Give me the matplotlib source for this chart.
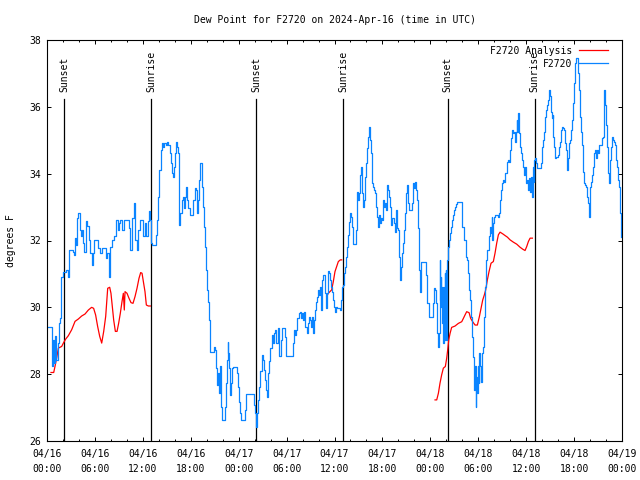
"""
Dew point plot for F2720, gnuplot look-alike
"""

import numpy as np
import pandas as pd
import matplotlib
matplotlib.use('Agg')
import matplotlib.pyplot as plt
import matplotlib.dates as mdates

START = pd.Timestamp('2024-04-16 00:00')

# observed dew point (hours after start, degrees F)
obs_hours = [
    0.08, 0.5, 0.58, 0.75, 0.88, 1.0, 1.17, 1.34, 1.5, 1.67, 1.75, 1.96, 2.34, 2.59, 2.75,
    3.3, 3.42, 3.55, 3.67, 3.8, 3.92, 4.09, 4.26, 4.42, 4.55, 4.67, 4.88, 5.05, 5.22, 5.43,
    5.59, 5.8, 5.93, 6.26, 6.43, 6.68, 6.93, 7.18, 7.35, 7.55, 7.72, 7.89, 8.1, 8.35, 8.51,
    8.68, 8.85, 9.0, 9.18, 9.35, 9.6, 10.1, 10.23, 10.43, 10.68, 10.89, 11.06, 11.23, 11.4,
    11.6, 11.85, 12.06, 12.27, 12.44, 12.6, 12.77, 12.94,
    13.02, 13.19, 13.44, 13.61, 13.77, 13.94, 14.06, 14.23, 14.36, 14.52, 14.69, 14.86,
    15.02, 15.19, 15.36, 15.48, 15.61, 15.78, 15.9, 16.03, 16.15, 16.28, 16.4, 16.49, 16.57,
    16.7, 16.86, 16.99, 17.11, 17.24, 17.4, 17.57, 17.7, 17.86, 18.11, 18.32, 18.53, 18.7,
    18.82, 18.95, 19.07, 19.2, 19.37, 19.58, 19.7, 19.78, 19.91, 20.03, 20.16, 20.28, 20.37,
    20.45, 20.74, 20.91, 21.08, 21.2, 21.33, 21.45, 21.58, 21.7, 21.83, 21.95, 22.12, 22.25,
    22.37, 22.5, 22.62, 22.7, 22.79, 22.91, 23.04, 23.16, 23.33, 23.62, 23.75, 23.91, 24.04,
    24.16, 24.33, 24.67, 24.79, 24.96, 25.42,
    25.71, 25.88, 26.04, 26.17, 26.29, 26.46, 26.58, 26.71, 26.88, 27.0, 27.13, 27.25, 27.38,
    27.5, 27.63, 27.8, 27.96, 28.13, 28.25, 28.38, 28.55, 28.71, 28.96, 29.09, 29.26, 29.42,
    29.63, 29.8, 29.97, 30.63, 30.8, 30.93, 31.05, 31.18, 31.34, 31.51, 31.68, 31.84, 31.97,
    32.09, 32.22, 32.34, 32.51, 32.64, 32.76, 32.89, 33.01, 33.14, 33.26, 33.39, 33.51, 33.64,
    33.76, 33.89, 34.01, 34.14, 34.26, 34.39, 34.51, 34.64, 34.76, 34.89, 35.02, 35.14, 35.22,
    35.35, 35.47, 35.6, 35.72, 35.85, 35.98, 36.1, 36.23, 36.35, 36.48, 36.64, 36.81, 36.94,
    37.06, 37.19, 37.31, 37.44, 37.56, 37.69, 37.81, 37.94,
    38.07, 38.19, 38.28, 38.36, 38.57, 38.69, 38.78, 38.86, 38.99, 39.11, 39.24, 39.36, 39.44,
    39.57, 39.7, 39.82, 39.95, 40.07, 40.2, 40.32, 40.4, 40.53, 40.65, 40.78, 40.9, 41.03,
    41.16, 41.28, 41.41, 41.53, 41.66, 41.78, 41.95, 42.07, 42.2, 42.33, 42.45, 42.58, 42.7,
    42.83, 42.95, 43.08, 43.2, 43.33, 43.45, 43.58, 43.7, 43.83, 43.95, 44.08, 44.2, 44.29,
    44.41, 44.54, 44.71, 44.87, 45.0, 45.12, 45.25, 45.37, 45.58, 45.71, 45.83, 45.96, 46.12,
    46.25, 46.37, 46.5, 46.62, 46.75, 46.83, 47.12, 47.37, 47.5, 47.62, 47.79, 48.17, 48.29,
    48.42, 48.59, 48.71, 48.84, 48.92, 49.04, 49.17,
    49.21, 49.25, 49.34, 49.38, 49.46, 49.5, 49.59, 49.63, 49.71, 49.75, 49.84, 49.88, 49.96,
    50.0, 50.09, 50.21, 50.34, 50.46, 50.59, 50.71, 50.84, 50.96, 51.09, 51.21, 51.38, 51.8,
    51.92, 52.13, 52.26, 52.42, 52.55, 52.72, 52.84, 52.97, 53.13, 53.26, 53.34, 53.43, 53.51,
    53.59, 53.68, 53.76, 53.84, 53.93, 54.05, 54.13, 54.26, 54.38, 54.51, 54.64, 54.72, 54.84,
    54.97, 55.14, 55.3, 55.43, 55.55, 55.68, 55.76, 55.85, 55.97, 56.14, 56.31, 56.47, 56.6,
    56.72, 56.85, 56.97, 57.14, 57.26, 57.39, 57.56, 57.68, 57.81, 57.93, 58.06, 58.18, 58.31,
    58.43, 58.56, 58.64, 58.73, 58.81, 58.89, 58.98, 59.06, 59.14, 59.27, 59.39, 59.52, 59.64,
    59.77, 59.85, 59.94, 60.06, 60.19, 60.31, 60.44, 60.56, 60.64, 60.73, 60.81, 60.94,
    60.98, 61.11, 61.23, 61.4, 61.73, 61.86, 61.98, 62.11, 62.23, 62.36, 62.48, 62.61, 62.73,
    62.86, 62.98, 63.11, 63.19, 63.32, 63.4, 63.49, 63.57, 63.69, 63.99, 64.07, 64.2, 64.32,
    64.45, 64.57, 64.74, 64.86, 64.99, 65.11, 65.24, 65.36, 65.49, 65.61, 65.74, 65.86, 65.99,
    66.12, 66.24, 66.36, 66.49, 66.61, 66.74, 66.87, 66.99, 67.12, 67.24, 67.37, 67.49, 67.62,
    67.74, 67.87, 68.0, 68.12, 68.24, 68.37, 68.49, 68.62, 68.74, 68.87, 68.99, 69.12, 69.24,
    69.37, 69.49, 69.62, 69.75, 69.87, 70.0, 70.12, 70.25, 70.33, 70.46, 70.58, 70.71, 70.83,
    70.96, 71.08, 71.21, 71.33, 71.46, 71.58, 71.71, 71.83,
]
obs_dewpt = [
    29.42, 29.42, 28.23, 29.03, 28.33, 29.13, 28.43, 28.93, 29.52, 29.67, 30.92, 31.07, 31.12, 30.92, 31.72,
    31.67, 31.57, 32.07, 31.87, 32.67, 32.82, 32.32, 32.12, 32.32, 31.92, 31.67, 32.57, 32.42, 32.02, 31.62,
    31.27, 31.62, 32.02, 32.02, 31.77, 31.62, 31.77, 31.77, 31.47, 31.62, 30.92, 31.82, 32.02, 32.12, 32.12,
    32.62, 32.32, 32.52, 32.62, 32.32, 32.62, 32.62, 32.37, 31.72, 32.67, 33.12, 32.02, 31.72, 32.32,
    32.62, 32.62, 32.12, 32.52, 32.12, 32.57, 32.87, 32.62,
    31.92, 31.87, 31.87, 32.17, 32.61, 33.31, 34.11, 34.71, 34.93, 34.81, 34.91, 34.86,
    34.96, 34.86, 34.61, 34.31, 34.01, 33.91, 34.21, 34.61, 34.96, 34.81, 34.61, 34.11, 32.46,
    32.81, 33.21, 33.31, 32.96, 33.31, 33.61, 33.21, 32.96, 32.76, 32.76, 33.21, 33.56, 33.51,
    32.81, 33.21, 33.81, 34.31, 33.61, 33.01, 32.41, 31.81, 31.12, 30.52, 30.17, 29.62, 29.02,
    28.67, 28.67, 28.82, 28.72, 28.18, 27.68, 28.03, 27.43, 28.23, 27.03, 26.63, 26.63, 27.03,
    27.73, 28.42, 28.97, 28.62, 28.18, 27.38, 27.73, 28.18, 28.21, 28.21, 28.03, 27.63, 27.18,
    26.83, 26.63, 26.63, 26.93, 27.41, 27.41,
    27.41, 27.08, 26.83, 26.43, 26.83, 27.23, 27.63, 28.08, 28.57, 28.42, 28.13, 27.83, 27.53,
    27.33, 28.03, 28.38, 28.77, 29.17, 28.92, 29.22, 29.32, 28.92, 29.37, 28.53, 29.02, 29.37,
    29.37, 29.12, 28.55, 28.55, 28.92, 29.32, 29.17, 29.32, 29.67, 29.82, 29.87, 29.67, 29.82,
    29.62, 29.87, 29.42, 29.22, 29.52, 29.72, 29.62, 29.42, 29.72, 29.22, 29.62, 29.92, 30.17,
    30.32, 30.52, 30.37, 30.62, 29.92, 30.82, 30.97, 30.97, 30.42, 29.97, 30.42, 30.72, 31.1,
    31.02, 30.82, 30.62, 30.47, 30.22, 30.02, 29.87, 30.02, 29.97, 29.97, 29.92, 30.22, 30.62,
    30.67, 31.02, 31.22, 31.52, 31.82, 32.17, 32.56, 32.81,
    32.71, 32.41, 32.11, 31.91, 31.91, 32.31, 32.91, 33.46, 33.21, 33.41, 33.96, 34.21, 33.41,
    33.01, 33.21, 33.91, 34.31, 34.76, 35.11, 35.41, 35.01, 34.61, 33.71, 33.59, 33.51, 33.41,
    33.01, 32.71, 32.41, 32.76, 32.51, 32.66, 32.61, 33.21, 33.01, 33.11, 32.91, 33.66, 33.51,
    33.31, 33.01, 32.46, 32.66, 32.66, 32.51, 32.26, 32.91, 32.36, 32.31, 31.52, 30.82, 31.22,
    31.62, 31.92, 32.31, 32.81, 33.41, 33.66, 33.11, 32.91, 32.91, 33.11, 33.71, 33.56, 33.76,
    33.51, 33.21, 32.36, 31.12, 30.47, 31.37, 31.37, 31.37, 30.97, 30.12, 29.7, 29.7, 30.12,
    30.57, 30.52, 30.12, 29.22, 28.82, 29.22, 30.22,
    31.42, 30.22, 30.92, 30.02, 30.62, 29.52, 30.62, 28.92, 30.62, 29.02, 31.02, 29.32, 31.12,
    29.02, 31.42, 31.82, 32.02, 32.21, 32.41, 32.61, 32.76, 32.91, 33.01, 33.09, 33.16, 33.16,
    32.41, 32.41, 32.02, 31.52, 31.42, 31.02, 30.52, 30.22, 29.72, 29.12, 28.52, 27.93, 27.53,
    28.23, 27.03, 27.93, 27.43, 28.23, 27.73, 28.62, 28.23, 27.78, 28.62, 28.82, 29.72, 30.62,
    31.42, 31.72, 32.12, 32.41, 32.21, 32.71, 32.02, 32.51, 32.71, 32.76, 32.76, 32.71, 32.81,
    33.21, 33.51, 33.71, 33.81, 33.76, 34.01, 34.36, 34.41, 34.36, 34.71, 35.06, 35.31, 35.21,
    35.26, 35.11, 34.96, 35.26, 35.61, 35.26, 35.81, 35.41, 35.21, 34.81, 34.61, 34.41, 34.21,
    33.96, 34.21, 33.71, 33.81, 33.51, 33.86, 33.46, 33.56, 33.91, 33.31, 34.21, 33.76,
    34.41, 34.46, 34.31, 34.16, 34.16, 34.31, 34.81, 35.01, 35.26, 35.71, 35.91, 36.06, 36.21,
    36.51, 36.31, 35.86, 35.66, 35.76, 35.11, 34.81, 34.46, 34.51, 34.56, 34.81, 34.96, 35.31,
    35.41, 35.36, 35.31, 34.91, 34.71, 34.11, 34.46, 34.91, 35.01, 35.31, 35.61, 36.11, 36.70,
    37.30, 37.45, 37.45, 37.0, 36.50, 35.71, 35.26, 34.86, 34.06, 33.71, 33.66, 33.61, 33.31,
    33.11, 32.71, 33.61, 33.76, 33.96, 34.21, 34.61, 34.71, 34.46, 34.71, 34.61, 34.86, 34.86,
    34.86, 35.06, 35.11, 36.50, 36.06, 35.46, 34.81, 34.01, 33.71, 34.41, 34.81, 35.11, 35.01,
    34.96, 34.86, 34.41, 34.21, 33.81, 33.61, 32.81, 32.11,
]

# analysis dew point, nan marks the gaps between runs
ana_hours = [
    0.5, 0.84, 1.0, 1.21, 1.42, 1.84, 2.05, 2.34, 2.67, 3.09, 3.51, 3.92, 4.34, 4.76, 5.18,
    5.59, 5.84, 6.09, 6.34, 6.6, 6.85, 7.1, 7.35, 7.6, 7.85, 8.01, 8.18, 8.35, 8.56, 8.77,
    8.97, 9.18, 9.39, 9.56, 9.68, 9.77, 10.02, 10.27, 10.52, 10.77, 11.02, 11.27, 11.52,
    11.73, 11.9, 12.1, 12.27, 12.44, 12.69, 12.94, np.nan,
    35.02, 35.22, 35.64, 35.85, 36.06, 36.27, 36.48, 36.73, 36.9, np.nan,
    48.59, 48.8, 49.01, 49.21, 49.42, 49.63, 49.88, 50.05, 50.17, 50.3, 50.47, 50.67, 51.09,
    51.51, 51.93, 52.14, 52.34, 52.55, 52.85, 53.05, 53.3, 53.6, 53.89, 54.14, 54.35, 54.56,
    54.76, 54.93, 55.14, 55.35, 55.6, 55.89, 56.1, 56.31, 56.52, 56.73, 57.06, 57.35, 57.65,
    57.98, 58.4, 58.82, 59.23, 59.57, 59.86, 60.07, 60.28, 60.49, 60.78,
]
ana_dewpt = [
    28.05, 28.05, 28.23, 28.48, 28.78, 28.83, 28.93, 29.05, 29.15, 29.33, 29.58, 29.65, 29.74,
    29.8, 29.92, 30.0, 29.97, 29.77, 29.43, 29.13, 28.93, 29.28, 29.73, 30.57, 30.6, 30.42,
    30.02, 29.62, 29.28, 29.28, 29.52, 29.82, 30.17, 30.42, 29.92, 30.47, 30.42, 30.27, 30.14,
    30.12, 30.32, 30.57, 30.87, 31.04, 31.02, 30.72, 30.47, 30.07, 30.04, 30.04, np.nan,
    30.32, 30.42, 30.52, 30.77, 31.07, 31.22, 31.37, 31.42, 31.42, np.nan,
    27.23, 27.23, 27.43, 27.73, 27.98, 28.18, 28.23, 28.48, 28.72, 29.02, 29.22, 29.4, 29.44,
    29.52, 29.57, 29.67, 29.77, 29.87, 29.84, 29.67, 29.57, 29.47, 29.47, 29.72, 29.97, 30.22,
    30.37, 30.52, 30.82, 31.07, 31.32, 31.37, 31.62, 31.92, 32.17, 32.25, 32.2, 32.15, 32.1,
    32.02, 31.95, 31.89, 31.8, 31.74, 31.7, 31.82, 31.97, 32.07, 32.07,
]

sun_hours = [2.15, 13.07, 26.2, 37.1, 50.15, 61.05]
sun_labels = ['Sunset', 'Sunrise', 'Sunset', 'Sunrise', 'Sunset', 'Sunrise']


def to_time(hours):
    return START + pd.to_timedelta(np.asarray(hours, dtype=float), unit='h')


def setup_fig():
    plt.rcParams['font.family'] = ['DejaVu Sans Mono']
    plt.rcParams['font.size'] = 7
    fig = plt.figure(figsize=[6.4, 4.8], dpi=100)
    ax = fig.add_axes([47 / 640, 1 - 441 / 480, 575 / 640, 401 / 480])
    ax.set_xlim(START, START + pd.Timedelta(hours=72))
    ax.set_ylim(26, 38)
    ax.set_yticks(range(26, 39, 2))
    ax.xaxis.set_major_locator(mdates.HourLocator(byhour=[0, 6, 12, 18]))
    ax.xaxis.set_minor_locator(mdates.HourLocator(interval=2))
    ax.xaxis.set_major_formatter(mdates.DateFormatter('%m/%d\n%H:%M'))
    ax.tick_params(which='both', direction='in', top=True, right=True, width=0.7,
                   labelsize=7, pad=4)
    ax.tick_params(axis='x', pad=6)
    ax.tick_params(which='major', length=3)
    ax.tick_params(which='minor', length=1.5)
    for sp in ax.spines.values():
        sp.set_linewidth(0.8)
    ax.set_title('Dew Point for F2720 on 2024-Apr-16 (time in UTC)', fontsize=7, pad=12)
    ax.set_ylabel('degrees F', fontsize=7, labelpad=10)
    return fig, ax


def plot_sun(ax):
    for h, lab in zip(sun_hours, sun_labels):
        t = to_time([h])[0]
        ax.plot([t, t], [26, 36.23], color='black', lw=0.9, zorder=1)
        ax.text(t, 36.45, lab, rotation=90, ha='center', va='bottom', fontsize=7)


def plot_series(ax):
    ax.plot(to_time(ana_hours), ana_dewpt, color='#ff0000', lw=0.9, label='F2720 Analysis')
    ax.plot(to_time(obs_hours), obs_dewpt, color='#0a84ff', lw=0.9,
            drawstyle='steps-post', label='F2720')
    ax.legend(loc='upper right', bbox_to_anchor=(1 - 8 / 575, 1), frameon=False,
              markerfirst=False, handlelength=3.0, borderaxespad=0.2, labelspacing=0.3,
              fontsize=7, handletextpad=0.7)


if __name__ == "__main__":
    fig, ax = setup_fig()
    plot_sun(ax)
    plot_series(ax)
    fig.canvas.draw()
    for lbl in ax.get_xticklabels():
        lbl.set_linespacing(1.6)
    fig.savefig('out.png', dpi=100)
